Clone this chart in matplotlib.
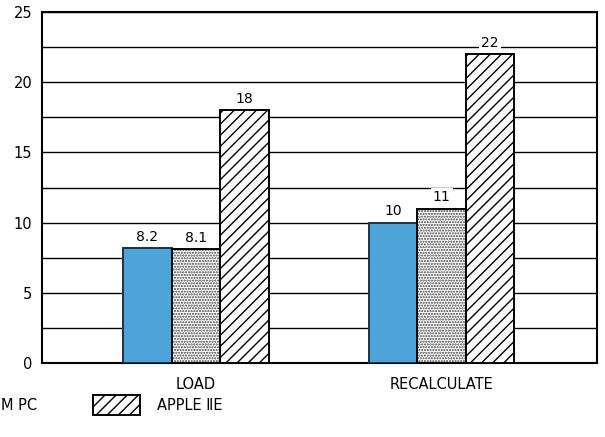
import matplotlib.pyplot as plt
import numpy as np
from matplotlib.patches import Rectangle

CATEGORIES = ["LOAD", "RECALCULATE"]
LEGEND_LABELS = ["M PC", "APPLE ⅡE"]   # left part of the legend is cut off in the source
VALUES = [
    [8.2, 10],   # blue
    [8.1, 11],   # dotted
    [18, 22],    # hatched
]
Y_TICKS = [0, 5, 10, 15, 20, 25]

FACE = ["#4ca4d8", "white", "white"]
EDGE = ["#1c3348", "black", "black"]
HATCH = [None, "......", "///"]
HATCH_COLOR = [None, "#404040", "black"]

plt.rcParams["font.family"] = ["DejaVu Sans"]
plt.rcParams["hatch.linewidth"] = 1.0

fig = plt.figure(figsize=(6.05, 4.37), dpi=100)
ax = fig.add_axes([42 / 605, 74 / 437, 555 / 605, 351 / 437])

x = np.arange(len(CATEGORIES))
width = 0.198

for i, vals in enumerate(VALUES):
    pos = x + (i - 1) * width
    if HATCH[i]:
        # hatch layer in its own colour, then a black outline on top
        ax.bar(pos, vals, width, color=FACE[i], edgecolor=HATCH_COLOR[i],
               hatch=HATCH[i], linewidth=0, zorder=3)
        bars = ax.bar(pos, vals, width, fill=False, edgecolor=EDGE[i],
                      linewidth=1.4, zorder=3.5)
    else:
        bars = ax.bar(pos, vals, width, color=FACE[i], edgecolor=EDGE[i],
                      linewidth=1.4, zorder=3)
    for rect, v in zip(bars, vals):
        ax.annotate(f"{v:g}", (rect.get_x() + rect.get_width() / 2, v),
                    xytext=(0, 8), textcoords="offset points",
                    ha="center", va="center", fontsize=10, zorder=4,
                    bbox=dict(boxstyle="square,pad=0.15", fc="white", ec="none"))

# gridlines every 2.5
ax.set_yticks(Y_TICKS)
ax.set_yticks(np.arange(0, 25.1, 2.5), minor=True)
ax.grid(which="both", axis="y", color="black", linewidth=1.0, zorder=1)
ax.set_axisbelow(True)
ax.set_ylim(0, 25)
ax.set_xlim(-0.627, 1.633)

ax.set_xticks(x, labels=CATEGORIES)
ax.tick_params(axis="x", length=0, pad=10, labelsize=10.5)
ax.tick_params(axis="y", which="both", length=0, pad=7, labelsize=10.5)

for s in ax.spines.values():
    s.set_linewidth(1.5)

# legend
fig.text(1 / 605, 1 - 405 / 437, LEGEND_LABELS[0], ha="left", va="center", fontsize=10.5)
fig.add_artist(Rectangle((93 / 605, 1 - 415 / 437), 47 / 605, 20 / 437,
                         transform=fig.transFigure, facecolor="white",
                         edgecolor="black", hatch=HATCH[2], linewidth=1.4))
fig.text(157 / 605, 1 - 405 / 437, LEGEND_LABELS[1], ha="left", va="center", fontsize=10.5)

fig.savefig("out.png", dpi=100)
